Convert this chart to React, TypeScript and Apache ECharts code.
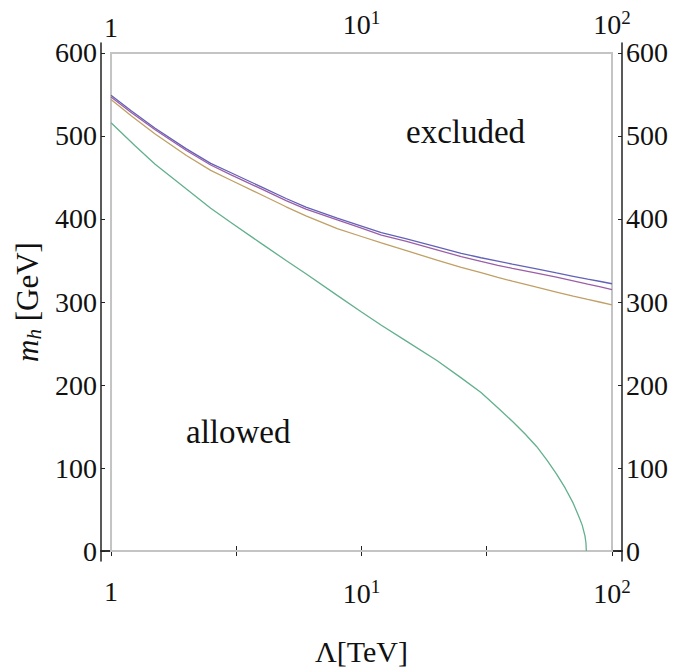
import React, { useEffect, useRef } from "react";
import * as echarts from "echarts";

// Λ in TeV for the three upper curves
const lambdaTop = [1, 1.2, 1.5, 2, 2.5, 3, 4, 5, 6, 8, 10, 12, 15, 20, 25, 30, 35, 40, 50, 60, 70, 80, 90, 100];
const blueCurve = [549, 530.6, 509.4, 484.5, 467, 456, 438.4, 424.7, 414.3, 401, 391.4, 383.6, 376.2, 366.4, 358.7, 353.3, 349.2, 345.6, 339.8, 335, 331, 327.6, 324.7, 322];
const purpleCurve = [547, 528.6, 507.4, 482.5, 465, 453.5, 435.9, 422.2, 411.8, 399, 388.9, 380.6, 373.2, 362.9, 354.7, 348.8, 344.2, 340.6, 334.8, 330, 325.5, 321.6, 318.2, 315];
const orangeCurve = [544, 524.6, 502.4, 476.5, 458.5, 447, 428.9, 414.7, 403.8, 388.5, 378.9, 371.1, 362.2, 350.4, 341.7, 335.3, 329.7, 325.1, 317.8, 312, 307, 303.1, 299.7, 296.5];

// Λ in TeV for the lower (green) curve
const lambdaGreen = [1, 1.25, 1.5, 2, 2.5, 3, 4, 5, 6, 8, 10, 12, 15, 20, 25, 30, 35, 40, 45, 50, 55, 60, 65, 70, 74, 76, 78, 78.7, 79];
const greenCurve = [516, 488, 466, 436, 413, 396, 370, 350, 334, 308, 288, 272, 253.5, 229.5, 208.6, 191, 172.7, 156.3, 141, 126, 109.5, 93, 76, 57.7, 40.5, 31.5, 18.2, 10, 0];

const xTickValues = [1, 3.1623, 10, 31.623, 100];
const xLabelValues = [1, 10, 100];
const yTickValues = [0, 100, 200, 300, 400, 500, 600];

const FONT = "Liberation Serif";

export default function App() {
  const ref = useRef<HTMLDivElement>(null);
  useEffect(() => {
    if (!ref.current) return;
    const chart = echarts.init(ref.current, null, { renderer: "svg" });
    const xMin = Math.pow(10, -0.04);
    const xMax = Math.pow(10, 2.04);
    const axisLineStyle = { color: "#222", width: 1.5 };
    const xLabelFormatter = (v: number) => {
      if (Math.abs(v - 1) < 1e-6) return "{b|1}";
      if (Math.abs(v - 10) < 1e-4) return "{b|10}{s|1}";
      if (Math.abs(v - 100) < 1e-3) return "{b|10}{s|2}";
      return "";
    };
    const xRich = {
      b: { fontSize: 28, fontFamily: FONT, color: "#111" },
      s: { fontSize: 19, fontFamily: FONT, color: "#111", padding: [0, 0, 14, 0] },
    };
    const makeX = (position: "bottom" | "top") => ({
      type: "log",
      logBase: 10,
      position,
      min: xMin,
      max: xMax,
      axisLine: { show: true, lineStyle: axisLineStyle },
      axisTick: { show: true, inside: true, length: 5, customValues: xTickValues, lineStyle: { color: "#222", width: 1 } },
      axisLabel: {
        show: true,
        customValues: xLabelValues,
        formatter: xLabelFormatter,
        rich: xRich,
        margin: position === "bottom" ? 16 : 2,
      },
      splitLine: { show: false },
      minorTick: { show: false },
      ...(position === "bottom"
        ? {
            name: "Λ[TeV]",
            nameLocation: "middle",
            nameGap: 75,
            nameTextStyle: { fontSize: 30, fontFamily: FONT, color: "#111" },
          }
        : {}),
    });
    const makeY = (position: "left" | "right") => ({
      type: "value",
      position,
      min: -12,
      max: 612,
      axisLine: { show: true, lineStyle: axisLineStyle },
      axisTick: { show: true, inside: true, length: 4, customValues: yTickValues, lineStyle: { color: "#222", width: 1 } },
      axisLabel: {
        show: true,
        customValues: yTickValues,
        fontSize: 28,
        fontFamily: FONT,
        color: "#111",
        margin: 4,
      },
      splitLine: { show: false },
      ...(position === "left"
        ? {
            name: "{i|m}{sub|h} [GeV]",
            nameLocation: "middle",
            nameGap: 50,
            nameRotate: 90,
            nameTextStyle: {
              fontSize: 31,
              fontFamily: FONT,
              color: "#111",
              rich: {
                i: { fontSize: 31, fontFamily: FONT, fontStyle: "italic", color: "#111" },
                sub: { fontSize: 21, fontFamily: FONT, fontStyle: "italic", color: "#111", padding: [12, 0, 0, 0] },
              },
            },
          }
        : {}),
    });
    const mk = (xs: number[], ys: number[]) => xs.map((x, i) => [x, ys[i]]);
    const lineSeries = (name: string, xs: number[], ys: number[], color: string) => ({
      name,
      type: "line",
      data: mk(xs, ys),
      showSymbol: false,
      symbol: "none",
      smooth: false,
      lineStyle: { color, width: 1.3 },
      xAxisIndex: 0,
      yAxisIndex: 0,
      z: 3,
    });
    chart.setOption({
      animation: false,
      backgroundColor: "#fff",
      grid: { left: 101, right: 54, top: 43, bottom: 108, containLabel: false },
      xAxis: [makeX("bottom"), makeX("top")],
      yAxis: [makeY("left"), makeY("right")],
      series: [
        {
          ...lineSeries("blue", lambdaTop, blueCurve, "#6262b8"),
          markArea: {
            silent: true,
            itemStyle: { color: "rgba(0,0,0,0)", borderColor: "#c4c4c4", borderWidth: 2 },
            data: [[{ coord: [1, 0] }, { coord: [100, 600] }]],
          },
        },
        lineSeries("purple", lambdaTop, purpleCurve, "#9c5ea6"),
        lineSeries("orange", lambdaTop, orangeCurve, "#c0a066"),
        lineSeries("green", lambdaGreen, greenCurve, "#62b08c"),
      ],
      graphic: [
        {
          type: "text",
          left: 406,
          top: 115,
          style: { text: "excluded", fontSize: 33, fontFamily: FONT, fill: "#111" },
        },
        {
          type: "text",
          left: 186,
          top: 415,
          style: { text: "allowed", fontSize: 33, fontFamily: FONT, fill: "#111" },
        },
      ],
    });
    return () => chart.dispose();
  }, []);
  return (
    <div
      ref={ref}
      style={{ position: "fixed", left: 0, top: 0, width: 676, height: 671, background: "#fff" }}
    />
  );
}
